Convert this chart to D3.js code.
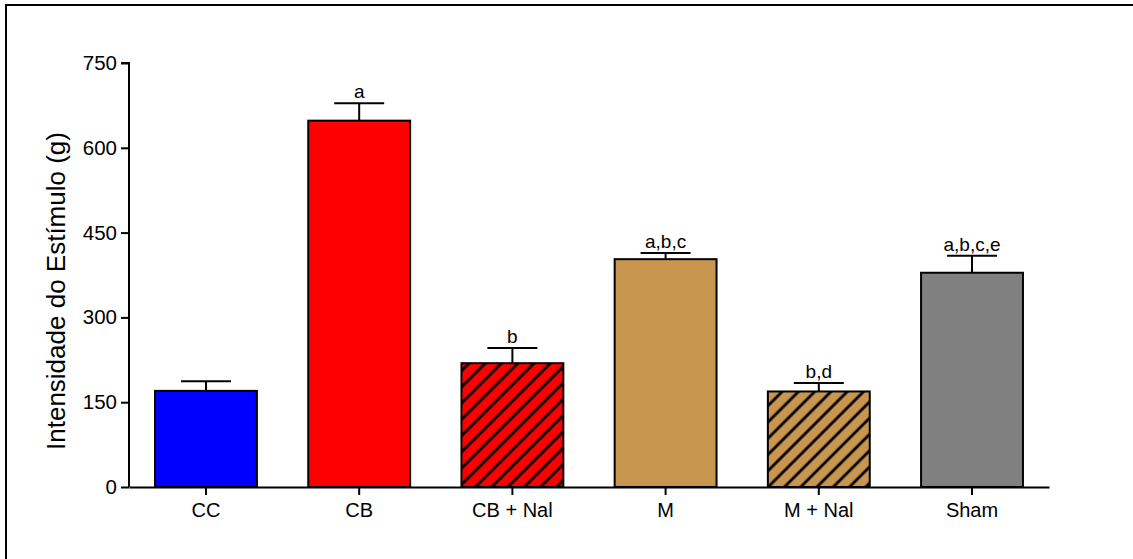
<!DOCTYPE html>
<html lang="en">
<head>
<meta charset="UTF-8" />
<title>Intensidade do Estímulo</title>
<script src="https://cdn.jsdelivr.net/npm/d3@7"></script>
<style>
  body { margin: 0; background: #fff; }
  svg text { font-family: "Liberation Sans", Arial, sans-serif; fill: #000; }
</style>
</head>
<body>
<script>
// data
var groups  = ["CC", "CB", "CB + Nal", "M", "M + Nal", "Sham"];
var means   = [170, 648, 219, 403, 169, 379];
var errs    = [17, 31, 27, 11, 15, 30];
var letters = ["", "a", "b", "a,b,c", "b,d", "a,b,c,e"];
var yTicks  = [0, 150, 300, 450, 600, 750];

var colors  = ["#0000ff", "#ff0000", "#ff0000", "#c8964f", "#c8964f", "#808080"];
var hatched = [false, false, true, false, true, false];

var width = 1133, height = 559;
var margin = {top: 63, right: 84, bottom: 72, left: 129};

var svg = d3.select("body").append("svg")
  .attr("width", width)
  .attr("height", height);

// outer frame (only left and top visible in the picture)
svg.append("rect")
  .attr("x", 6).attr("y", 5)
  .attr("width", 1200).attr("height", 700)
  .attr("fill", "none")
  .attr("stroke", "#000")
  .attr("stroke-width", 2);

var defs = svg.append("defs");
colors.forEach(function(c, i) {
  if (!hatched[i]) return;
  var p = defs.append("pattern")
    .attr("id", "hatch" + i)
    .attr("patternUnits", "userSpaceOnUse")
    .attr("width", 11.5).attr("height", 11.5)
    .attr("patternTransform", "rotate(45)");
  p.append("rect").attr("width", 11.5).attr("height", 11.5).attr("fill", c);
  p.append("line")
    .attr("x1", 2).attr("y1", 0).attr("x2", 2).attr("y2", 11.5)
    .attr("stroke", "#000").attr("stroke-width", 2.8);
});

var x = d3.scaleBand()
  .domain(groups)
  .range([margin.left, width - margin.right])
  .paddingInner(0.335)
  .paddingOuter(0.17);

var y = d3.scaleLinear()
  .domain([0, 750])
  .range([height - margin.bottom, margin.top]);

var g = svg.append("g");

// bars
g.selectAll("rect.bar")
  .data(groups)
  .enter()
  .append("rect")
  .attr("class", "bar")
  .attr("x", function(d) { return x(d); })
  .attr("width", x.bandwidth())
  .attr("y", function(d, i) { return y(means[i]); })
  .attr("height", function(d, i) { return y(0) - y(means[i]); })
  .attr("fill", function(d, i) { return hatched[i] ? "url(#hatch" + i + ")" : colors[i]; })
  .attr("stroke", "#000")
  .attr("stroke-width", 2);

// error bars (upper only)
var capW = 50;
groups.forEach(function(d, i) {
  var cx = x(d) + x.bandwidth() / 2;
  g.append("line")
    .attr("x1", cx).attr("x2", cx)
    .attr("y1", y(means[i])).attr("y2", y(means[i] + errs[i]))
    .attr("stroke", "#000").attr("stroke-width", 2);
  g.append("line")
    .attr("x1", cx - capW / 2).attr("x2", cx + capW / 2)
    .attr("y1", y(means[i] + errs[i])).attr("y2", y(means[i] + errs[i]))
    .attr("stroke", "#000").attr("stroke-width", 2);
  if (letters[i]) {
    g.append("text")
      .attr("x", cx)
      .attr("y", y(means[i] + errs[i]) - 5)
      .attr("text-anchor", "middle")
      .style("font-size", "19px")
      .text(letters[i]);
  }
});

// y axis
var yAxis = d3.axisLeft(y).tickValues(yTicks).tickSize(8).tickPadding(4);
var ya = svg.append("g")
  .attr("transform", "translate(" + margin.left + ",0)")
  .call(yAxis);
ya.select(".domain").attr("stroke-width", 2).attr("d", "M-8," + y(750) + "H0V" + y(0));
ya.selectAll(".tick line").attr("stroke-width", 2);
ya.selectAll(".tick text").style("font-size", "20.5px").attr("font-family", null);

// x axis
var xAxis = d3.axisBottom(x).tickSize(8).tickSizeOuter(0).tickPadding(8);
var xa = svg.append("g")
  .attr("transform", "translate(0," + y(0) + ")")
  .call(xAxis);
xa.select(".domain").attr("stroke-width", 2);
xa.selectAll(".tick line").attr("stroke-width", 2);
xa.selectAll(".tick text").style("font-size", "20px").attr("font-family", null);

// y label
svg.append("text")
  .attr("transform", "translate(65,291) rotate(-90)")
  .attr("text-anchor", "middle")
  .style("font-size", "26px")
  .text("Intensidade do Estímulo (g)");
</script>
</body>
</html>
